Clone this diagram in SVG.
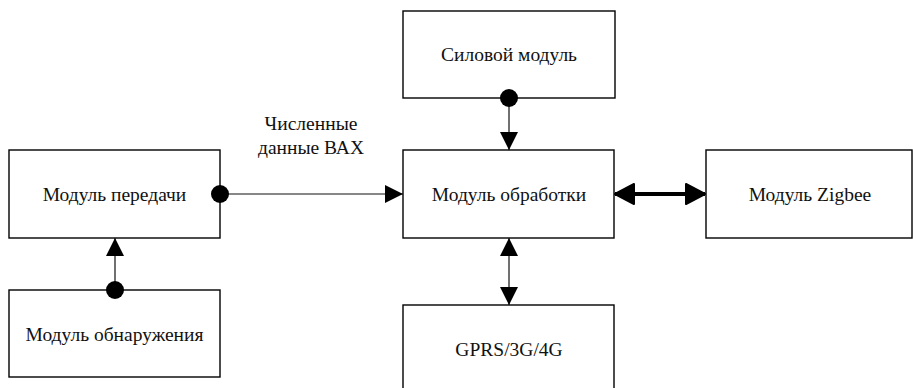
<svg xmlns="http://www.w3.org/2000/svg" width="913" height="388" viewBox="0 0 913 388">
<style>
.box{fill:#fff;stroke:#000;stroke-width:1.4}
.t{font-family:"Liberation Serif","DejaVu Serif",serif;font-size:19.5px;fill:#111;text-anchor:middle}
.c{stroke:#111;stroke-width:1.2;fill:none}
.thick{stroke:#000;stroke-width:4;fill:none}
.dot{fill:#000}
</style>
<defs>
<marker id="ah" markerUnits="userSpaceOnUse" markerWidth="18" markerHeight="18" refX="18" refY="9" orient="auto-start-reverse">
<path d="M0,0 L18,9 L0,18 Z" fill="#000"/>
</marker>
<marker id="ahb" markerUnits="userSpaceOnUse" markerWidth="24" markerHeight="24" refX="21" refY="12" orient="auto-start-reverse">
<path d="M2,2 L21,12 L2,22 Z" fill="#000" stroke="#000" stroke-width="2" stroke-linejoin="round"/>
</marker>
</defs>
<g id="power"><rect class="box" x="403" y="11" width="212" height="87"/><text class="t" x="509" y="61">Силовой модуль</text></g>
<g id="transfer"><rect class="box" x="9" y="150" width="211" height="88"/><text class="t" x="114.5" y="201">Модуль передачи</text></g>
<g id="processing"><rect class="box" x="403" y="150" width="211" height="88"/><text class="t" x="509" y="201">Модуль обработки</text></g>
<g id="zigbee"><rect class="box" x="706" y="150" width="206" height="88"/><text class="t" x="810" y="201">Модуль Zigbee</text></g>
<g id="detection"><rect class="box" x="9" y="290" width="211" height="87"/><text class="t" x="114.5" y="341">Модуль обнаружения</text></g>
<g id="gprs"><rect class="box" x="403" y="305" width="211" height="90"/><text class="t" x="509" y="356">GPRS/3G/4G</text></g>
<g id="connectors">
<line class="c" x1="220" y1="194" x2="403" y2="194" marker-end="url(#ah)"/>
<circle class="dot" cx="220" cy="194" r="9"/>
<line class="c" x1="509" y1="98" x2="509" y2="150" marker-end="url(#ah)"/>
<circle class="dot" cx="509" cy="98" r="9"/>
<line class="c" x1="115" y1="290" x2="115" y2="238" marker-end="url(#ah)"/>
<circle class="dot" cx="115" cy="290" r="9"/>
<line class="c" x1="509" y1="238" x2="509" y2="305" marker-start="url(#ah)" marker-end="url(#ah)"/>
<line class="thick" x1="615" y1="194" x2="705" y2="194" marker-start="url(#ahb)" marker-end="url(#ahb)"/>
<text class="t" x="311" y="130">Численные</text>
<text class="t" x="311" y="154">данные ВАХ</text>
</g>
</svg>
